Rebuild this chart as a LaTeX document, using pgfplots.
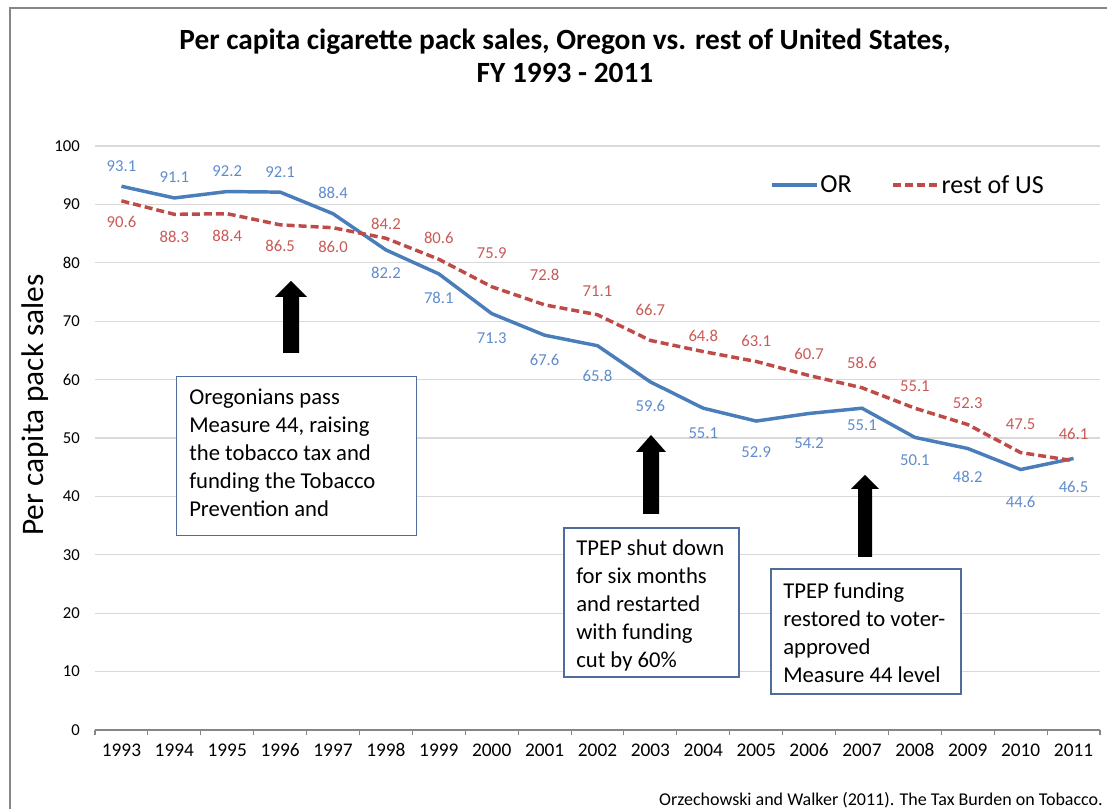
\documentclass[border=0pt]{standalone}
\usepackage{pgfplots}
\pgfplotsset{compat=1.18}
\usepackage{pgfplotstable}
\usepackage{fontspec}
\setmainfont{Carlito}

\definecolor{orblue}{RGB}{74,126,187}
\definecolor{usred}{RGB}{190,75,72}
\definecolor{orlab}{RGB}{95,140,205}
\definecolor{uslab}{RGB}{200,90,86}
\definecolor{boxc}{RGB}{79,109,154}
\definecolor{gridc}{RGB}{217,217,217}
\definecolor{axc}{RGB}{134,134,134}

% x = year index (0 = 1993), y = packs per capita, dy = label offset in px
\pgfplotstableread{
x y dy
0 93.1 20
1 91.1 20
2 92.2 20
3 92.1 20
4 88.4 20
5 82.2 -24
6 78.1 -25
7 71.3 -25
8 67.6 -25
9 65.8 -31
10 59.6 -25
11 55.1 -25
12 52.9 -31
13 54.2 -30
14 55.1 -17
15 50.1 -23
16 48.2 -29
17 44.6 -33
18 46.5 -29
}\ortable

\pgfplotstableread{
x y dy
0 90.6 -22
1 88.3 -23
2 88.4 -23
3 86.5 -22
4 86.0 -20
5 84.2 14
6 80.6 21
7 75.9 33
8 72.8 29
9 71.1 23
10 66.7 30
11 64.8 15
12 63.1 20
13 60.7 21
14 58.6 24
15 55.1 22
16 52.3 21
17 47.5 28
18 46.1 26
}\ustable

\begin{document}
\begin{tikzpicture}
\path[use as bounding box] (0,0) rectangle (830.25pt,606.75pt);

\begin{axis}[
    at={(71.25pt,59.25pt)}, anchor=south west,
    width=753.75pt, height=438pt, scale only axis,
    clip=false,
    xmin=-0.5, xmax=18.5,
    ymin=0, ymax=100,
    xtick={0,...,18},
    xticklabels={1993,1994,1995,1996,1997,1998,1999,2000,2001,2002,2003,2004,2005,2006,2007,2008,2009,2010,2011},
    minor xtick={-0.5,0.5,...,18.5},
    ytick={0,10,...,100},
    axis x line*=bottom, axis y line*=left,
    y axis line style={draw=none},
    x axis line style={axc, line width=1pt},
    ymajorgrids, major grid style={gridc, line width=0.9pt},
    major tick length=0pt, minor tick length=4pt, tick align=outside,
    minor tick style={axc, line width=0.8pt},
    ytick style={draw=none},
    /pgf/number format/assume math mode=true,
    /pgf/number format/1000 sep={},
    yticklabel style={font=\fontsize{12.5}{14}\selectfont, anchor=east, inner sep=0pt, xshift=-11.25pt},
    xticklabel style={font=\fontsize{14.5}{16}\selectfont, anchor=base, inner sep=0pt, yshift=-20.25pt},
    legend columns=2,
    legend style={at={(rel axis cs:0.672,0.933)}, anchor=west, draw=none, fill=none,
        font=\fontsize{19.5}{23}\selectfont, inner sep=0pt,
        nodes={inner xsep=1pt, inner ysep=0pt},
        /tikz/every even column/.append style={column sep=29pt}},
    legend image code/.code={\draw[#1] (0pt,0pt) -- (33.75pt,0pt);},
]
\addplot[orblue, line width=2.6pt,
    nodes near coords={\pgfmathprintnumber[fixed,fixed zerofill,precision=1]{\pgfplotspointmeta}},
    point meta=rawy,
    visualization depends on={\thisrow{dy} \as \dy},
    every node near coord/.append style={anchor=base, yshift={0.75pt*\dy-3.75pt}, text=orlab,
        font=\fontsize{12.5}{14}\selectfont, inner sep=0pt}]
    table[x=x, y=y] {\ortable};
\addlegendentry{OR}
\addplot[usred, line width=2.6pt, dash pattern=on 6pt off 3pt,
    nodes near coords={\pgfmathprintnumber[fixed,fixed zerofill,precision=1]{\pgfplotspointmeta}},
    point meta=rawy,
    visualization depends on={\thisrow{dy} \as \dy},
    every node near coord/.append style={anchor=base, yshift={0.75pt*\dy-3.75pt}, text=uslab,
        font=\fontsize{12.5}{14}\selectfont, inner sep=0pt, solid}]
    table[x=x, y=y] {\ustable};
\addlegendentry{rest of US}
\end{axis}

\begin{scope}[x=0.75pt,y=-0.75pt,yshift=606.75pt]
% chart frame
\draw[axc, line width=1.5pt] (9.5,809) -- (9.5,8.5) -- (1107,8.5);
% title
\node[anchor=base, font=\bfseries\fontsize{22}{26}\selectfont] at (565,50)
    {Per capita cigarette pack sales, Oregon vs. rest of United States,};
\node[anchor=base, font=\bfseries\fontsize{22}{26}\selectfont] at (565,83)
    {FY 1993 - 2011};
% y label
\node[rotate=90, font=\fontsize{23.5}{28}\selectfont] at (35,405) {Per capita pack sales};
% arrows
\fill[black] (283,353) -- (283,297) -- (275,297) -- (291,281) -- (307,297) -- (299,297) -- (299,353) -- cycle;
\fill[black] (643,514) -- (643,452) -- (636,452) -- (651,435) -- (666,452) -- (659,452) -- (659,514) -- cycle;
\fill[black] (858,557) -- (858,489) -- (851,489) -- (865,475) -- (879,489) -- (872,489) -- (872,557) -- cycle;
% annotation boxes
\filldraw[fill=white, draw=boxc, line width=1.1pt] (176.5,376.5) rectangle (416.5,535.5);
\node[anchor=north west, inner sep=0pt, align=left, font=\fontsize{17}{21}\selectfont] at (189,389)
    {Oregonians pass\\Measure 44, raising\\the tobacco tax and\\funding the Tobacco\\Prevention and};
\filldraw[fill=white, draw=boxc, line width=1.1pt] (564,528) rectangle (739,677);
\node[anchor=north west, inner sep=0pt, align=left, font=\fontsize{17}{21}\selectfont] at (576,540)
    {TPEP shut down\\for six months\\and restarted\\with funding\\cut by 60\%};
\filldraw[fill=white, draw=boxc, line width=1.1pt] (771,569) rectangle (961,694);
\node[anchor=north west, inner sep=0pt, align=left, font=\fontsize{17}{21}\selectfont] at (783,583)
    {TPEP funding\\restored to voter-\\approved\\Measure 44 level};
% source
\node[anchor=base east, inner sep=0pt, font=\fontsize{13.5}{16}\selectfont] at (1103,806)
    {Orzechowski and Walker (2011). The Tax Burden on Tobacco.};
\end{scope}
\end{tikzpicture}
\end{document}
